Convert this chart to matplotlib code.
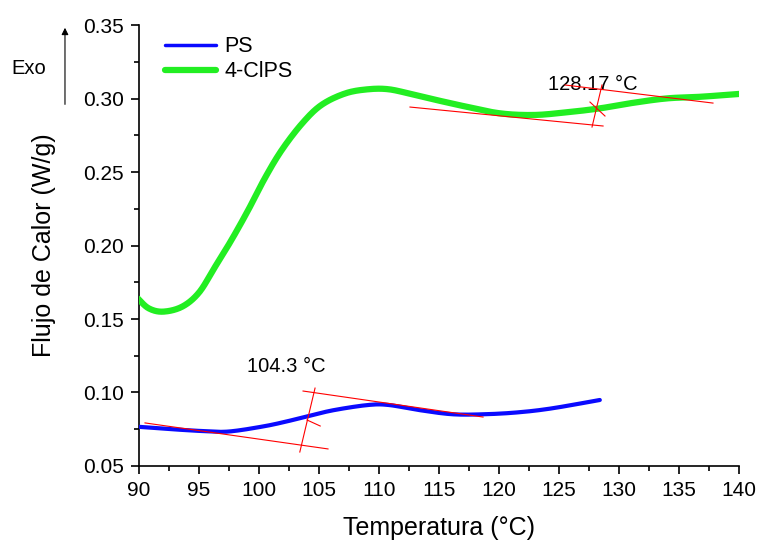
import numpy as np
import matplotlib
matplotlib.use("Agg")
import matplotlib.pyplot as plt

plt.rcParams['font.family'] = ['Liberation Sans', 'DejaVu Sans']

# 4-ClPS curve
cl_t = [89.9, 90.8, 92.0, 93.6, 95.0, 96.3, 97.7, 99.1, 100.5, 101.9, 103.6,
        105.2, 107.2, 109.1, 110.8, 112.7, 114.5, 117.3, 120.1, 122.9, 125.6,
        128.4, 131.2, 134.0, 136.8, 140.0]
cl_q = [0.1640, 0.1573, 0.1550, 0.1584, 0.1680, 0.1850, 0.2037, 0.2241, 0.2460,
        0.2650, 0.2831, 0.2956, 0.3035, 0.3063, 0.3063, 0.3030, 0.2995, 0.2944,
        0.2899, 0.2888, 0.2906, 0.2933, 0.2971, 0.3001, 0.3012, 0.3031]

# PS curve
ps_t = [89.9, 92.4, 95.2, 97.4, 100.2, 102.2, 104.1, 106.3, 109.1, 110.8, 113.3,
        116.1, 118.8, 121.6, 124.4, 128.4]
ps_q = [0.0767, 0.0752, 0.0738, 0.0734, 0.0767, 0.0801, 0.0840, 0.0881, 0.0915,
        0.0915, 0.0881, 0.0852, 0.0852, 0.0865, 0.0892, 0.0949]

# tangent construction lines (x pair, y pair)
ps_marks = [([90.5, 105.75], [0.0793, 0.0616]),
            ([103.67, 118.67], [0.101, 0.0833]),
            ([104.67, 103.4], [0.103, 0.0595]),
            ([104.0, 105.1], [0.0813, 0.0772])]
cl_marks = [([112.58, 128.67], [0.2942, 0.2813]),
            ([125.5, 137.83], [0.3092, 0.2969]),
            ([128.58, 127.75], [0.3092, 0.2806]),
            ([127.58, 128.83], [0.2976, 0.2881])]


def smooth(t, q):
    # Catmull-Rom through the read points
    t = np.asarray(t, float)
    q = np.asarray(q, float)
    xs, ys = [], []
    for i in range(len(t) - 1):
        p0 = i - 1 if i > 0 else i
        p3 = i + 2 if i + 2 < len(t) else i + 1
        s = np.linspace(0, 1, 20, endpoint=False)
        for arr, out in ((t, xs), (q, ys)):
            a, b, c, d = arr[p0], arr[i], arr[i + 1], arr[p3]
            out.extend(0.5 * ((2 * b) + (-a + c) * s + (2 * a - 5 * b + 4 * c - d) * s ** 2
                              + (-a + 3 * b - 3 * c + d) * s ** 3))
    xs.append(t[-1])
    ys.append(q[-1])
    return xs, ys


fig = plt.figure(figsize=(7.6, 5.44), dpi=100)
ax = fig.add_axes([0.1829, 0.1434, 0.7895, 0.8106])

ax.plot(*smooth(ps_t, ps_q), color='#0a0aff', linewidth=3, label='PS', zorder=3,
        solid_capstyle='round')
ax.plot(*smooth(cl_t, cl_q), color='#22ee22', linewidth=4.5, label='4-ClPS', zorder=3,
        solid_capstyle='round')
for xs, ys in ps_marks + cl_marks:
    ax.plot(xs, ys, color='red', linewidth=0.8, zorder=4)

ax.text(102.3, 0.118, '104.3 °C', fontsize=14.5, ha='center', va='center')
ax.text(127.8, 0.3092, '128.17 °C', fontsize=14.5, ha='center', va='center')

ax.set_xlim(90, 140)
ax.set_ylim(0.05, 0.35)
ax.set_xticks(np.arange(90, 141, 5))
ax.set_xticks(np.arange(90, 140.1, 2.5), minor=True)
ax.set_yticks(np.arange(0.05, 0.351, 0.05))
ax.set_yticks(np.arange(0.05, 0.351, 0.025), minor=True)
ax.set_yticklabels(['%.2f' % v for v in np.arange(0.05, 0.351, 0.05)])
ax.tick_params(which='major', direction='out', length=6, width=1.2, labelsize=15, pad=5)
ax.tick_params(which='minor', direction='out', length=3.5, width=1.2)
ax.spines['top'].set_visible(False)
ax.spines['right'].set_visible(False)
ax.spines['left'].set_linewidth(1.2)
ax.spines['bottom'].set_linewidth(1.2)

ax.set_xlabel('Temperatura (°C)', fontsize=18, labelpad=11)
ax.set_ylabel('Flujo de Calor (W/g)', fontsize=18, labelpad=19)

leg = ax.legend(loc='upper left', bbox_to_anchor=(0.043, 0.975), frameon=False,
                fontsize=15.5, handlelength=2.4, handletextpad=0.35,
                labelspacing=0.2, borderaxespad=0, borderpad=0)
leg.get_lines()[0].set_linewidth(2.5)
leg.get_lines()[1].set_linewidth(4.5)

fig.text(0.038, 0.875, 'Exo', fontsize=14.5, ha='center', va='center')
fig.add_artist(matplotlib.patches.FancyArrowPatch(
    (0.0855, 0.803), (0.0855, 0.954), transform=fig.transFigure,
    arrowstyle='-|>', mutation_scale=10, color='black', linewidth=0.8))

plt.savefig('out.png', dpi=100)
